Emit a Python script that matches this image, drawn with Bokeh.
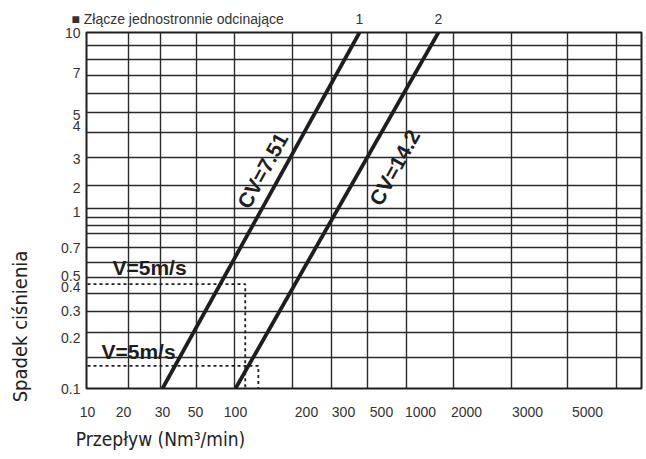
import numpy as np
from bokeh.plotting import figure
from bokeh.models import Range1d, FixedTicker, Label, LinearAxis
from bokeh.embed import file_html
from bokeh.resources import INLINE

# ---- data ----
flow_ticks = [10, 20, 30, 50, 100, 200, 300, 500, 1000, 2000, 3000, 5000]
flow_labels = ["10", "20", "30", "50", "100", "200", "300", "500", "1000", "2000", "3000", "5000"]
drop_ticks = [0.1, 0.2, 0.3, 0.4, 0.5, 0.7, 1, 2, 3, 4, 5, 7, 10]
drop_labels = ["0.1", "0.2", "0.3", "0.4", "0.5", "0.7", "1", "2", "3", "4", "5", "7", "10"]

cv1_flow = [30, 372]
cv1_drop = [0.1, 10]
cv2_flow = [100, 1310]
cv2_drop = [0.1, 10]
line_names = ["1", "2"]

v5_upper_flow = [10, 110, 110]
v5_upper_drop = [0.42, 0.42, 0.1]
v5_lower_flow = [10, 125, 125]
v5_lower_drop = [0.136, 0.136, 0.1]

title_text = "■  Złącze jednostronnie odcinające"
x_title = "Przepływ (Nm³/min)"
y_title = "Spadek ciśnienia"

# ---- the printed (non-uniform) nomogram scales: position of each scale mark ----
flow_scale_pos = [1, 37, 76, 109, 149, 220, 257, 295, 334, 380, 441, 501]
drop_scale_pos = [0, 51, 78, 102, 113, 141, 177, 201, 230, 263, 274, 316, 356]
grid_x = [42, 74, 110, 148, 206, 245, 281, 320, 367, 425, 481, 530]
grid_y = [343, 329, 313, 295, 276, 256, 231, 203, 180, 171, 163, 155, 141,
          126, 111, 95, 77, 56, 31]


def fx(q):
    return np.interp(np.log10(q), np.log10(flow_ticks), flow_scale_pos)


def fy(d):
    return np.interp(np.log10(d), np.log10(drop_ticks), drop_scale_pos)


INK = "#1e1e1e"
TXT = "#333333"
SANS = "Liberation Sans"
COND = "Liberation Sans Narrow, DejaVu Sans Condensed, Liberation Sans, sans-serif"

p = figure(width=646, height=459,
           x_range=Range1d(0, 555), y_range=Range1d(0, 356),
           output_backend="svg", toolbar_location=None,
           min_border_left=86, min_border_right=5,
           min_border_top=32, min_border_bottom=71)

p.outline_line_color = INK
p.outline_line_width = 2
p.background_fill_color = "white"
p.border_fill_color = "white"


def style_axis(ax, font=SANS, size="14px", color=TXT, standoff=6):
    ax.axis_line_color = None
    ax.major_tick_line_color = None
    ax.minor_tick_line_color = None
    ax.major_tick_out = 0
    ax.major_tick_in = 0
    ax.minor_tick_out = 0
    ax.minor_tick_in = 0
    ax.major_label_text_font = font
    ax.major_label_text_font_size = size
    ax.major_label_text_color = color
    ax.major_label_standoff = standoff


# main axes (nomogram scales)
xa = p.xaxis[0]
style_axis(xa, standoff=18)
xa.ticker = FixedTicker(ticks=[float(v) for v in fx(flow_ticks)], minor_ticks=[])
xa.major_label_overrides = {float(v): s for v, s in zip(fx(flow_ticks), flow_labels)}

ya = p.yaxis[0]
style_axis(ya, standoff=6)
ya.ticker = FixedTicker(ticks=[float(v) for v in fy(drop_ticks)], minor_ticks=[])
ya.major_label_overrides = {float(v): s for v, s in zip(fy(drop_ticks), drop_labels)}

# axis titles placed as single-mark axes (keeps the off-centre placement of the original)
xt_pos = 74.0
xt = LinearAxis(ticker=FixedTicker(ticks=[xt_pos], minor_ticks=[]),
                major_label_overrides={xt_pos: x_title})
style_axis(xt, font=COND, size="19px", color="#222222", standoff=8)
p.add_layout(xt, "below")

yt_pos = 62.0
yt = LinearAxis(ticker=FixedTicker(ticks=[yt_pos], minor_ticks=[]),
                major_label_overrides={yt_pos: y_title},
                major_label_orientation="vertical")
style_axis(yt, font=COND, size="20px", color="#222222", standoff=27)
p.add_layout(yt, "left")

# top: line numbers and the (cropped) section heading
top_pos = [float(fx(cv1_flow[1])), float(fx(cv2_flow[1]))]
head_pos = 93.0
top_over = {v: s for v, s in zip(top_pos, line_names)}
top_over[head_pos] = title_text
ta = LinearAxis(ticker=FixedTicker(ticks=[head_pos] + top_pos, minor_ticks=[]),
                major_label_overrides=top_over)
style_axis(ta, size="14px", color=TXT, standoff=6)
p.add_layout(ta, "above")

# grid
p.xgrid.ticker = FixedTicker(ticks=grid_x, minor_ticks=[])
p.ygrid.ticker = FixedTicker(ticks=grid_y, minor_ticks=[])
for g in (p.xgrid[0], p.ygrid[0]):
    g.grid_line_color = "#2a2a2a"
    g.grid_line_width = 1.4
    g.grid_line_alpha = 1.0

# dashed V=5 m/s guides
p.line(fx(v5_upper_flow), fy(v5_upper_drop), line_color=INK, line_width=1.8, line_dash="3 3")
p.line(fx(v5_lower_flow), fy(v5_lower_drop), line_color=INK, line_width=1.8, line_dash="3 3")

# CV lines
p.line(fx(cv1_flow), fy(cv1_drop), line_color=INK, line_width=3.8)
p.line(fx(cv2_flow), fy(cv2_drop), line_color=INK, line_width=3.8)

ang = float(np.arctan2(fy(cv1_drop)[1] - fy(cv1_drop)[0], fx(cv1_flow)[1] - fx(cv1_flow)[0]))


def lab(x, y, t, size, style="bold", angle=0.0, color=INK):
    p.add_layout(Label(x=x, y=y, text=t, text_font=SANS,
                       text_font_size=size, text_font_style=style, angle=angle,
                       text_align="center", text_baseline="middle", text_color=color))


lab(63, 121, "V=5m/s", "21px")
lab(52, 37, "V=5m/s", "21px")
lab(176, 218, "CV=7.51", "21px", angle=ang)
lab(308, 221, "CV=14.2", "21px", angle=ang)

open("out.html", "w").write(file_html(p, INLINE))
